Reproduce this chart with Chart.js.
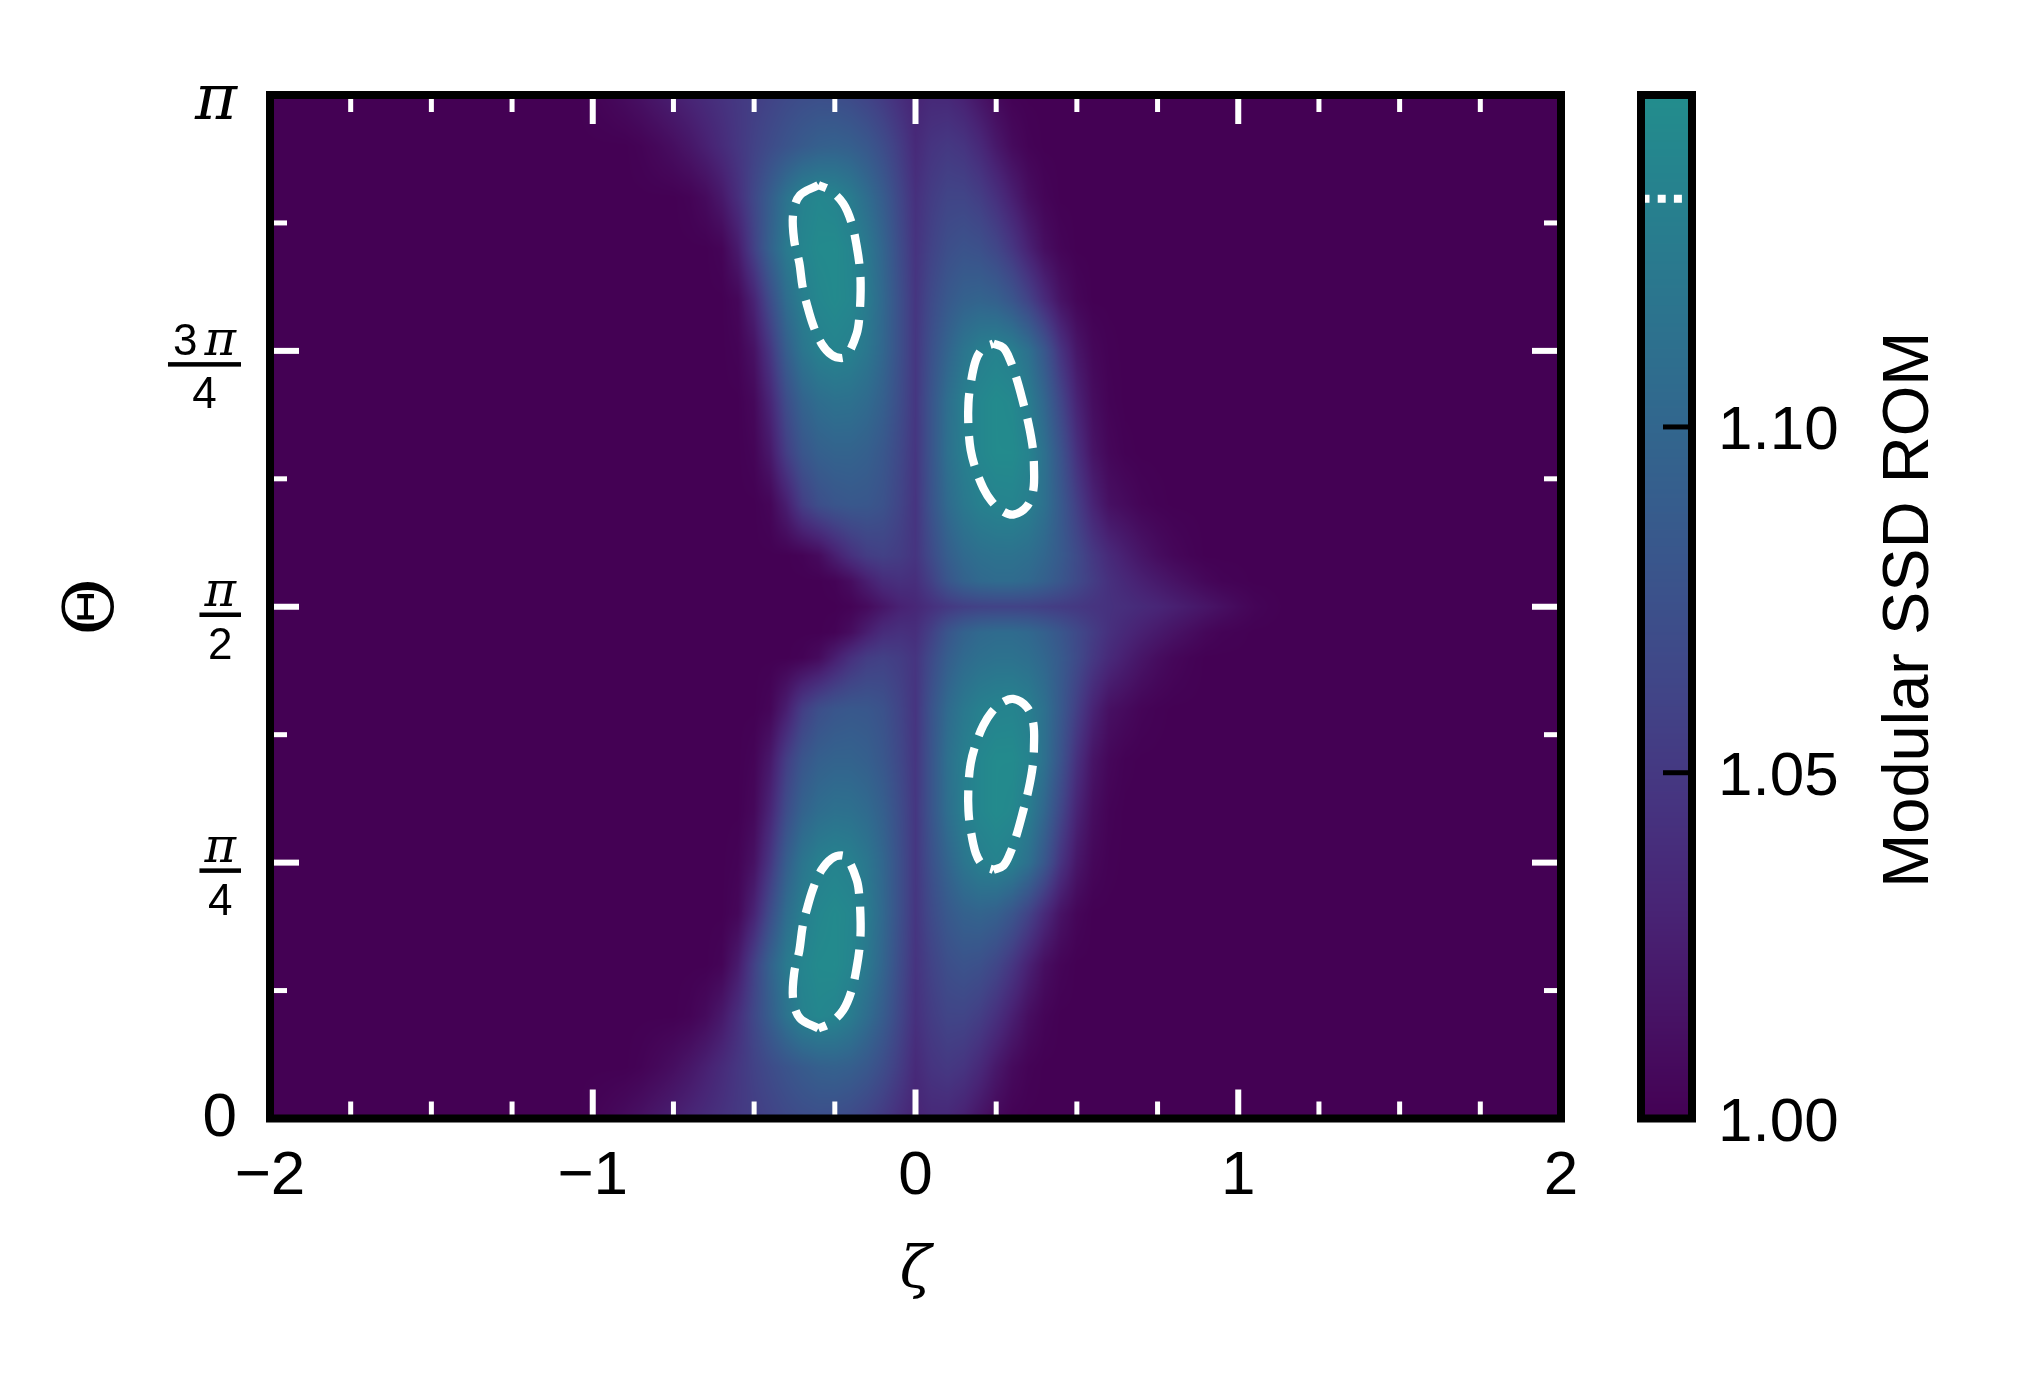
<!DOCTYPE html>
<html>
<head>
<meta charset="utf-8">
<title>Modular SSD ROM</title>
<script src="https://cdn.jsdelivr.net/npm/chart.js@4.4.1/dist/chart.umd.min.js"></script>
<style>
html, body { margin: 0; padding: 0; background: #ffffff; }
canvas { display: block; }
</style>
</head>
<body>
<canvas id="chart" width="2025" height="1376"></canvas>
<script>
// ---------------- data ----------------
// zeta grid (x), step 0.05; outside this range the field is 1.000
const ZETA_GRID = [-1.10,-1.05,-1.00,-0.95,-0.90,-0.85,-0.80,-0.75,-0.70,-0.65,-0.60,-0.55,-0.50,-0.45,-0.40,-0.35,-0.30,-0.25,-0.20,-0.15,-0.10,-0.05,
  0.00,0.05,0.10,0.15,0.20,0.25,0.30,0.35,0.40,0.45,0.50,0.55,0.60,0.65,0.70,0.75,0.80,0.85,0.90,0.95,1.00,1.05,1.10,1.15,1.20];
// Theta grid (y), in units of pi
const THETA_GRID = [0,0.05,0.10,0.15,0.20,0.25,0.30,0.35,0.40,0.45,0.475,0.50,0.525,0.55,0.60,0.65,0.70,0.75,0.80,0.85,0.90,0.95,1.00];
// Modular SSD ROM values, one row per THETA_GRID entry, one column per ZETA_GRID entry
const ROM_VALUES = [
 /*0.00*/ [1,1,1.002,1.005,1.009, 1.014,1.020,1.026,1.032,1.038, 1.044,1.050,1.055,1.060,1.066, 1.070,1.072,1.071,1.067,1.060, 1.051,1.040,1.030,1.035,1.034, 1.027,1.016,1.006,1.001,1, 1,1,1,1,1, 1,1,1,1,1, 1,1,1,1,1, 1,1],
 /*0.05*/ [1,1,1,1,1, 1.002,1.006,1.011,1.018,1.027, 1.037,1.048,1.059,1.069,1.078, 1.086,1.092,1.094,1.091,1.083, 1.070,1.054,1.036,1.046,1.050, 1.046,1.035,1.020,1.008,1.002, 1,1,1,1,1, 1,1,1,1,1, 1,1,1,1,1, 1,1],
 /*0.10*/ [1,1,1,1,1, 1,1,1,1.002,1.008, 1.020,1.040,1.065,1.090,1.115, 1.134,1.140,1.137,1.126,1.108, 1.088,1.064,1.042,1.054,1.062, 1.062,1.055,1.042,1.026,1.011, 1.003,1,1,1,1, 1,1,1,1,1, 1,1,1,1,1, 1,1],
 /*0.15*/ [1,1,1,1,1, 1,1,1,1,1, 1.003,1.022,1.058,1.095,1.124, 1.138,1.144,1.145,1.138,1.122, 1.098,1.070,1.045,1.060,1.072, 1.077,1.074,1.064,1.048,1.028, 1.011,1.003,1,1,1, 1,1,1,1,1, 1,1,1,1,1, 1,1],
 /*0.20*/ [1,1,1,1,1, 1,1,1,1,1, 1,1.005,1.030,1.070,1.108, 1.130,1.140,1.144,1.140,1.126, 1.102,1.074,1.047,1.068,1.084, 1.094,1.097,1.093,1.080,1.060, 1.036,1.015,1.004,1,1, 1,1,1,1,1, 1,1,1,1,1, 1,1],
 /*0.25*/ [1,1,1,1,1, 1,1,1,1,1, 1,1.002,1.014,1.048,1.090, 1.118,1.132,1.136,1.132,1.120, 1.100,1.074,1.048,1.075,1.098, 1.118,1.130,1.135,1.130,1.112, 1.082,1.045,1.018,1.005,1.001, 1,1,1,1,1, 1,1,1,1,1, 1,1],
 /*0.30*/ [1,1,1,1,1, 1,1,1,1,1, 1,1,1.006,1.032,1.070, 1.096,1.108,1.113,1.112,1.105, 1.092,1.071,1.048,1.080,1.110, 1.130,1.140,1.145,1.142,1.128, 1.100,1.064,1.030,1.010,1.002, 1,1,1,1,1, 1,1,1,1,1, 1,1],
 /*0.35*/ [1,1,1,1,1, 1,1,1,1,1, 1,1,1.003,1.020,1.055, 1.080,1.092,1.096,1.096,1.092, 1.082,1.066,1.047,1.080,1.112, 1.130,1.140,1.145,1.145,1.136, 1.112,1.078,1.042,1.016,1.005, 1.001,1,1,1,1, 1,1,1,1,1, 1,1],
 /*0.40*/ [1,1,1,1,1, 1,1,1,1,1, 1,1,1,1.004,1.025, 1.055,1.072,1.080,1.083,1.082, 1.076,1.062,1.046,1.078,1.105, 1.122,1.132,1.136,1.137,1.130, 1.112,1.085,1.056,1.030,1.013, 1.008,1.003,1.001,1,1, 1,1,1,1,1, 1,1],
 /*0.45*/ [1,1,1,1,1, 1,1,1,1,1, 1,1,1,1,1, 1.002,1.008,1.025,1.042,1.054, 1.058,1.054,1.046,1.068,1.090, 1.104,1.111,1.114,1.114,1.110, 1.100,1.086,1.068,1.050,1.036, 1.026,1.017,1.010,1.005,1.002, 1,1,1,1,1, 1,1],
 /*0.475*/[1,1,1,1,1, 1,1,1,1,1, 1,1,1,1,1, 1,1,1.002,1.010,1.025, 1.038,1.042,1.040,1.058,1.080, 1.095,1.103,1.106,1.106,1.102, 1.093,1.081,1.067,1.054,1.042, 1.034,1.027,1.021,1.015,1.010, 1.005,1.002,1.001,1,1, 1,1],
 /*0.50*/ [1,1,1,1,1, 1,1,1,1,1, 1,1,1,1,1, 1,1,1,1.002,1.008, 1.018,1.028,1.033,1.042,1.050, 1.056,1.059,1.060,1.060,1.059, 1.056,1.053,1.050,1.046,1.043, 1.040,1.036,1.032,1.027,1.022, 1.017,1.012,1.007,1.003,1.001, 1,1],
 /*0.525*/[1,1,1,1,1, 1,1,1,1,1, 1,1,1,1,1, 1,1,1.002,1.010,1.025, 1.038,1.042,1.040,1.058,1.080, 1.095,1.103,1.106,1.106,1.102, 1.093,1.081,1.067,1.054,1.042, 1.034,1.027,1.021,1.015,1.010, 1.005,1.002,1.001,1,1, 1,1],
 /*0.55*/ [1,1,1,1,1, 1,1,1,1,1, 1,1,1,1,1, 1.002,1.008,1.025,1.042,1.054, 1.058,1.054,1.046,1.068,1.090, 1.104,1.111,1.114,1.114,1.110, 1.100,1.086,1.068,1.050,1.036, 1.026,1.017,1.010,1.005,1.002, 1,1,1,1,1, 1,1],
 /*0.60*/ [1,1,1,1,1, 1,1,1,1,1, 1,1,1,1.004,1.025, 1.055,1.072,1.080,1.083,1.082, 1.076,1.062,1.046,1.078,1.105, 1.122,1.132,1.136,1.137,1.130, 1.112,1.085,1.056,1.030,1.013, 1.008,1.003,1.001,1,1, 1,1,1,1,1, 1,1],
 /*0.65*/ [1,1,1,1,1, 1,1,1,1,1, 1,1,1.003,1.020,1.055, 1.080,1.092,1.096,1.096,1.092, 1.082,1.066,1.047,1.080,1.112, 1.130,1.140,1.145,1.145,1.136, 1.112,1.078,1.042,1.016,1.005, 1.001,1,1,1,1, 1,1,1,1,1, 1,1],
 /*0.70*/ [1,1,1,1,1, 1,1,1,1,1, 1,1,1.006,1.032,1.070, 1.096,1.108,1.113,1.112,1.105, 1.092,1.071,1.048,1.080,1.110, 1.130,1.140,1.145,1.142,1.128, 1.100,1.064,1.030,1.010,1.002, 1,1,1,1,1, 1,1,1,1,1, 1,1],
 /*0.75*/ [1,1,1,1,1, 1,1,1,1,1, 1,1.002,1.014,1.048,1.090, 1.118,1.132,1.136,1.132,1.120, 1.100,1.074,1.048,1.075,1.098, 1.118,1.130,1.135,1.130,1.112, 1.082,1.045,1.018,1.005,1.001, 1,1,1,1,1, 1,1,1,1,1, 1,1],
 /*0.80*/ [1,1,1,1,1, 1,1,1,1,1, 1,1.005,1.030,1.070,1.108, 1.130,1.140,1.144,1.140,1.126, 1.102,1.074,1.047,1.068,1.084, 1.094,1.097,1.093,1.080,1.060, 1.036,1.015,1.004,1,1, 1,1,1,1,1, 1,1,1,1,1, 1,1],
 /*0.85*/ [1,1,1,1,1, 1,1,1,1,1, 1.003,1.022,1.058,1.095,1.124, 1.138,1.144,1.145,1.138,1.122, 1.098,1.070,1.045,1.060,1.072, 1.077,1.074,1.064,1.048,1.028, 1.011,1.003,1,1,1, 1,1,1,1,1, 1,1,1,1,1, 1,1],
 /*0.90*/ [1,1,1,1,1, 1,1,1,1.002,1.008, 1.020,1.040,1.065,1.090,1.115, 1.134,1.140,1.137,1.126,1.108, 1.088,1.064,1.042,1.054,1.062, 1.062,1.055,1.042,1.026,1.011, 1.003,1,1,1,1, 1,1,1,1,1, 1,1,1,1,1, 1,1],
 /*0.95*/ [1,1,1,1,1, 1.002,1.006,1.011,1.018,1.027, 1.037,1.048,1.059,1.069,1.078, 1.086,1.092,1.094,1.091,1.083, 1.070,1.054,1.036,1.046,1.050, 1.046,1.035,1.020,1.008,1.002, 1,1,1,1,1, 1,1,1,1,1, 1,1,1,1,1, 1,1],
 /*1.00*/ [1,1,1.002,1.005,1.009, 1.014,1.020,1.026,1.032,1.038, 1.044,1.050,1.055,1.060,1.066, 1.070,1.072,1.071,1.067,1.060, 1.051,1.040,1.030,1.035,1.034, 1.027,1.016,1.006,1.001,1, 1,1,1,1,1, 1,1,1,1,1, 1,1,1,1,1, 1,1]
];

// axes / ticks
const X_TICKS = [-2, -1, 0, 1, 2];
const X_MINOR_TICKS = [-1.75, -1.5, -1.25, -0.75, -0.5, -0.25, 0.25, 0.5, 0.75, 1.25, 1.5, 1.75];
const Y_TICKS = [0, 0.25, 0.5, 0.75, 1];            // units of pi
const Y_TICK_LABELS = ['0', 'π/4', 'π/2', '3π/4', 'π'];
const Y_MINOR_TICKS = [0.125, 0.375, 0.625, 0.875];
const CB_MIN = 1.0;
const CB_MAX = 1.148;
const CB_TICKS = [1.00, 1.05, 1.10];
const CONTOUR_LEVEL = 1.133;

// contour lines at CONTOUR_LEVEL (closed loops), zeta and Theta/pi
const C1_ZETA  = [-0.301,-0.358,-0.379,-0.376,-0.360,-0.350,-0.337,-0.317,-0.291,-0.260,-0.229,-0.211,-0.182,-0.174,-0.170,-0.172,-0.182,-0.198,-0.224,-0.265];
const C1_THETA = [ 0.912, 0.902, 0.884, 0.858, 0.836, 0.813, 0.796, 0.775, 0.757, 0.746, 0.743, 0.746, 0.767, 0.783, 0.809, 0.829, 0.852, 0.875, 0.894, 0.907];
const C2_ZETA  = [0.241,0.272,0.293,0.314,0.334,0.350,0.363,0.367,0.365,0.345,0.303,0.267,0.236,0.210,0.187,0.171,0.164,0.164,0.171,0.187,0.210];
const C2_THETA = [0.757,0.753,0.741,0.722,0.699,0.679,0.656,0.637,0.614,0.598,0.590,0.594,0.603,0.616,0.634,0.653,0.676,0.699,0.718,0.741,0.753];
const C3_ZETA  = [0.241,0.272,0.293,0.314,0.334,0.350,0.363,0.367,0.365,0.345,0.303,0.267,0.236,0.210,0.187,0.171,0.164,0.164,0.171,0.187,0.210];
const C3_THETA = [0.243,0.247,0.259,0.278,0.301,0.321,0.344,0.363,0.386,0.402,0.410,0.406,0.397,0.384,0.366,0.347,0.324,0.301,0.282,0.259,0.247];
const C4_ZETA  = [-0.301,-0.358,-0.379,-0.376,-0.360,-0.350,-0.337,-0.317,-0.291,-0.260,-0.229,-0.211,-0.182,-0.174,-0.170,-0.172,-0.182,-0.198,-0.224,-0.265];
const C4_THETA = [ 0.088, 0.098, 0.116, 0.142, 0.164, 0.187, 0.204, 0.225, 0.243, 0.254, 0.257, 0.254, 0.233, 0.217, 0.191, 0.171, 0.148, 0.125, 0.106, 0.093];

// ---------------- styling helpers ----------------
const SANS = '"Liberation Sans", Arial, Helvetica, sans-serif';
const SERIF = '"DejaVu Serif", "Liberation Serif", serif';
// viridis, lower half (0 .. 0.5)
const VIRIDIS = [[68,1,84],[71,19,101],[72,36,117],[70,52,128],[65,68,135],[59,82,139],[53,95,141],[47,108,142],[42,120,142],[37,132,142],[33,145,140]];
function colorAt(v) {
  let t = (v - CB_MIN) / (CB_MAX - CB_MIN);
  t = Math.max(0, Math.min(1, t)) * 0.97;
  const f = t * (VIRIDIS.length - 1);
  const i = Math.min(VIRIDIS.length - 2, Math.floor(f));
  const u = f - i;
  const a = VIRIDIS[i], b = VIRIDIS[i + 1];
  return [a[0] + (b[0] - a[0]) * u, a[1] + (b[1] - a[1]) * u, a[2] + (b[2] - a[2]) * u];
}
function locate(arr, v) {
  const n = arr.length;
  if (v <= arr[0]) return [0, 0];
  if (v >= arr[n - 1]) return [n - 2, 1];
  let i = 0;
  while (arr[i + 1] < v) i++;
  return [i, (v - arr[i]) / (arr[i + 1] - arr[i])];
}

const heatmapPlugin = {
  id: 'heatmap',
  beforeDatasetsDraw(chart) {
    const {ctx, chartArea: a, scales: {x, y}} = chart;
    const x0 = Math.floor(a.left), x1 = Math.ceil(a.right);
    const y0 = Math.floor(a.top), y1 = Math.ceil(a.bottom);
    const w = x1 - x0, h = y1 - y0;
    const img = ctx.createImageData(w, h);
    const ci = new Int32Array(w), cf = new Float32Array(w);
    for (let i = 0; i < w; i++) {
      const r = locate(ZETA_GRID, x.getValueForPixel(x0 + i + 0.5));
      ci[i] = r[0]; cf[i] = r[1];
    }
    const lut = [];
    for (let k = 0; k <= 1024; k++) lut.push(colorAt(CB_MIN + (CB_MAX - CB_MIN) * k / 1024));
    for (let j = 0; j < h; j++) {
      const r = locate(THETA_GRID, y.getValueForPixel(y0 + j + 0.5));
      const rowA = ROM_VALUES[r[0]], rowB = ROM_VALUES[r[0] + 1], fy = r[1];
      for (let i = 0; i < w; i++) {
        const k = ci[i], fx = cf[i];
        const va = rowA[k] + (rowA[k + 1] - rowA[k]) * fx;
        const vb = rowB[k] + (rowB[k + 1] - rowB[k]) * fx;
        const v = va + (vb - va) * fy;
        let q = Math.round((v - CB_MIN) / (CB_MAX - CB_MIN) * 1024);
        q = Math.max(0, Math.min(1024, q));
        const c = lut[q];
        const p = (j * w + i) * 4;
        img.data[p] = c[0]; img.data[p + 1] = c[1]; img.data[p + 2] = c[2]; img.data[p + 3] = 255;
      }
    }
    ctx.putImageData(img, x0, y0);
  }
};

function drawYLabels(ctx, a, yScale) {
  ctx.fillStyle = '#000';
  Y_TICKS.forEach((v, k) => {
    const py = yScale.getPixelForValue(v);
    const lab = Y_TICK_LABELS[k];
    if (lab.indexOf('/') < 0) {
      if (lab === 'π') {
        ctx.font = 'italic 64px ' + SERIF;
        ctx.textAlign = 'right'; ctx.textBaseline = 'alphabetic';
        ctx.fillText(lab, a.left - 33, py + 24);
      } else {
        ctx.font = '62px ' + SANS;
        ctx.textAlign = 'right'; ctx.textBaseline = 'middle';
        ctx.fillText(lab, a.left - 33, py);
      }
    } else {
      const [num, den] = lab.split('/');
      const hasDigit = /\d/.test(num);
      const barY = py + (hasDigit ? 13.5 : 8);
      const parts = Array.from(num).map(ch => ({ch, font: ch === 'π' ? 'italic 48px ' + SERIF : '44px ' + SANS}));
      const gap = 7;
      let w = 0;
      parts.forEach((p, i) => { ctx.font = p.font; p.w = ctx.measureText(p.ch).width; w += p.w + (i > 0 ? gap : 0); });
      const barW = w + 10, barR = a.left - 29, barL = barR - barW;
      ctx.fillRect(barL, barY - 2.25, barW, 4.5);
      ctx.textAlign = 'left'; ctx.textBaseline = 'alphabetic';
      let cx = barL + 5;
      parts.forEach((p, i) => { if (i > 0) cx += gap; ctx.font = p.font; ctx.fillText(p.ch, cx, barY - 9); cx += p.w; });
      ctx.font = '44px ' + SANS; ctx.textAlign = 'center';
      ctx.fillText(den, barL + barW / 2, barY + 44);
    }
  });
}

const overlayPlugin = {
  id: 'overlay',
  afterDraw(chart) {
    const {ctx, chartArea: a, scales: {x, y, cb}} = chart;
    ctx.save();
    const seg = (xa, ya, xb, yb, lw) => { ctx.lineWidth = lw; ctx.beginPath(); ctx.moveTo(xa, ya); ctx.lineTo(xb, yb); ctx.stroke(); };
    // white inward ticks on all four sides
    ctx.strokeStyle = '#ffffff'; ctx.lineCap = 'butt'; ctx.setLineDash([]);
    X_TICKS.forEach(v => { const p = x.getPixelForValue(v); seg(p, a.bottom, p, a.bottom - 29, 6); seg(p, a.top, p, a.top + 29, 6); });
    X_MINOR_TICKS.forEach(v => { const p = x.getPixelForValue(v); seg(p, a.bottom, p, a.bottom - 17, 5); seg(p, a.top, p, a.top + 17, 5); });
    Y_TICKS.forEach(v => { const p = y.getPixelForValue(v); seg(a.left, p, a.left + 29, p, 6); seg(a.right, p, a.right - 29, p, 6); });
    Y_MINOR_TICKS.forEach(v => { const p = y.getPixelForValue(v); seg(a.left, p, a.left + 17, p, 5); seg(a.right, p, a.right - 17, p, 5); });
    // frame
    ctx.strokeStyle = '#000000'; ctx.lineWidth = 8; ctx.lineJoin = 'miter';
    ctx.strokeRect(a.left, a.top, a.right - a.left, a.bottom - a.top);
    // y tick labels (fractions of pi)
    drawYLabels(ctx, a, y);

    // colorbar
    const cbL = a.right + 80, cbR = cbL + 51;
    const cTop = cb.getPixelForValue(CB_MAX), cBot = cb.getPixelForValue(CB_MIN);
    for (let py = Math.floor(cTop); py < Math.ceil(cBot); py++) {
      const c = colorAt(cb.getValueForPixel(py + 0.5));
      ctx.fillStyle = 'rgb(' + c.map(Math.round).join(',') + ')';
      ctx.fillRect(cbL, py, cbR - cbL, 1);
    }
    // contour level marker
    const lp = cb.getPixelForValue(CONTOUR_LEVEL);
    ctx.strokeStyle = '#ffffff'; ctx.setLineDash([8, 8.2]);
    seg(cbL + 0.5, lp, cbR, lp, 8);
    ctx.setLineDash([]);
    // colorbar ticks
    ctx.strokeStyle = '#000000';
    CB_TICKS.forEach(v => { const p = cb.getPixelForValue(v); seg(cbR, p, cbR - 29, p, 5); });
    ctx.lineWidth = 8;
    ctx.strokeRect(cbL, cTop, cbR - cbL, cBot - cTop);
    // colorbar label
    ctx.fillStyle = '#000000';
    ctx.font = '65px ' + SANS;
    ctx.textAlign = 'center'; ctx.textBaseline = 'middle';
    ctx.translate(cbR + 218, (cTop + cBot) / 2 + 3);
    ctx.rotate(-Math.PI / 2);
    ctx.fillText('Modular SSD ROM', 0, 0);
    ctx.restore();
  }
};

function loop(zs, ts) {
  const pts = zs.map((z, i) => ({x: z, y: ts[i]}));
  pts.push({x: zs[0], y: ts[0]});
  return pts;
}
const contourStyle = {
  showLine: true, pointRadius: 0, pointHoverRadius: 0, fill: false,
  borderColor: '#ffffff', borderWidth: 8.3, borderDash: [30, 13], borderCapStyle: 'butt',
  tension: 0.35
};
function noPad(s) { s.paddingTop = 0; s.paddingBottom = 0; s.paddingLeft = 0; s.paddingRight = 0; }

Chart.defaults.font.family = SANS;
new Chart(document.getElementById('chart').getContext('2d'), {
  type: 'scatter',
  data: {
    datasets: [
      Object.assign({label: 'c1', data: loop(C1_ZETA, C1_THETA)}, contourStyle),
      Object.assign({label: 'c2', data: loop(C2_ZETA, C2_THETA)}, contourStyle),
      Object.assign({label: 'c3', data: loop(C3_ZETA, C3_THETA)}, contourStyle),
      Object.assign({label: 'c4', data: loop(C4_ZETA, C4_THETA)}, contourStyle)
    ]
  },
  options: {
    responsive: false,
    animation: false,
    devicePixelRatio: 1,
    layout: {padding: {top: 95, left: 0, right: 0, bottom: 0}},
    plugins: {legend: {display: false}, tooltip: {enabled: false}},
    scales: {
      x: {
        type: 'linear', position: 'bottom', min: -2, max: 2,
        afterBuildTicks: s => { s.ticks = X_TICKS.map(v => ({value: v})); },
        afterFit: s => { s.height = 257.5; noPad(s); },
        grid: {display: false, drawTicks: false},
        border: {display: false},
        ticks: {
          color: '#000', padding: 21, maxRotation: 0, autoSkip: false,
          font: {family: SANS, size: 62},
          callback: v => (v < 0 ? '\u2212' + Math.abs(v) : String(v))
        },
        title: {display: true, text: 'ζ', color: '#000', font: {family: SERIF, size: 58, style: 'italic'}, padding: {top: 0, bottom: 69}}
      },
      y: {
        type: 'linear', position: 'left', min: 0, max: 1,
        afterBuildTicks: s => { s.ticks = Y_TICKS.map(v => ({value: v})); },
        afterFit: s => { s.width = 270; noPad(s); },
        grid: {display: false, drawTicks: false},
        border: {display: false},
        ticks: {display: false},
        title: {display: true, text: 'Θ', color: '#000', font: {family: SERIF, size: 70}, padding: {top: 53, bottom: 0}}
      },
      cb: {
        type: 'linear', position: 'right', min: CB_MIN, max: CB_MAX,
        afterBuildTicks: s => { s.ticks = CB_TICKS.map(v => ({value: v})); },
        afterFit: s => { s.width = 464; noPad(s); },
        grid: {display: false, drawTicks: false},
        border: {display: false},
        ticks: {color: '#000', padding: 157, labelOffset: 5, font: {family: SANS, size: 62}, callback: v => Number(v).toFixed(2)}
      }
    }
  },
  plugins: [heatmapPlugin, overlayPlugin]
});
</script>
</body>
</html>
